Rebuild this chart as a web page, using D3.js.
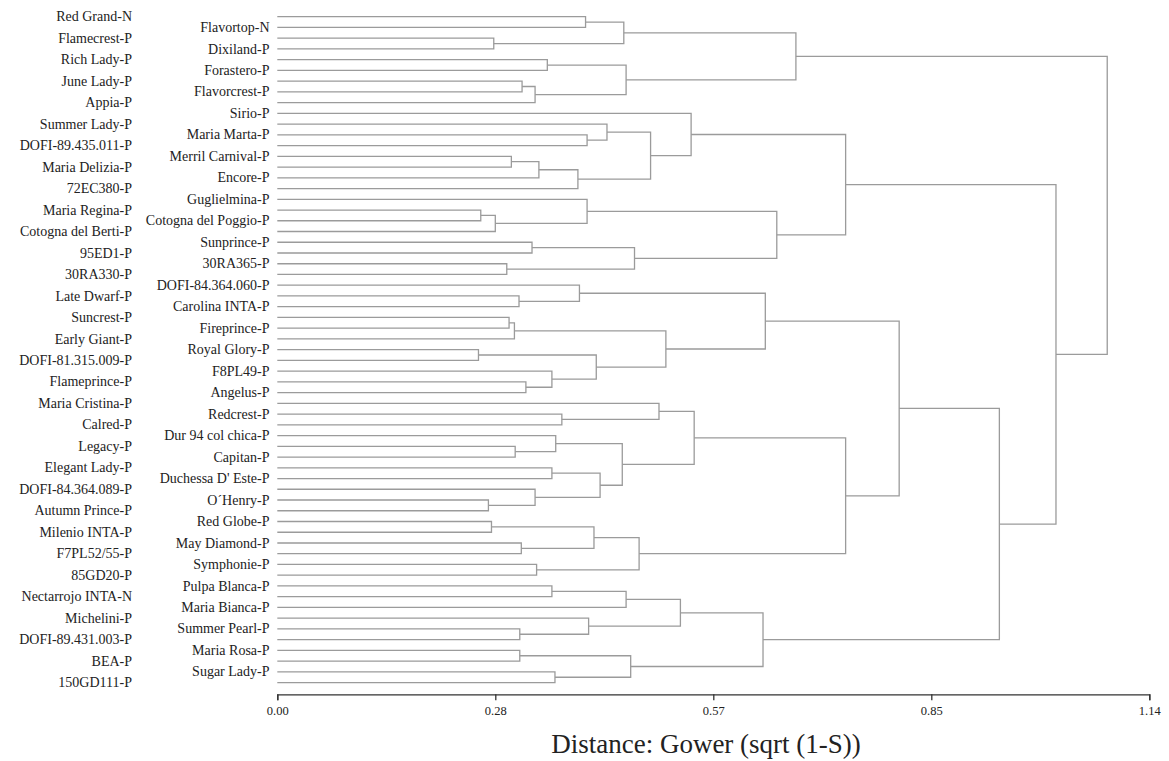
<!DOCTYPE html>
<html>
<head>
<meta charset="utf-8">
<script src="https://cdn.jsdelivr.net/npm/d3@7"></script>
<style>
  html, body { margin: 0; padding: 0; background: #fff; }
  .link { fill: none; stroke: #9b9b9b; stroke-width: 1.3; }
  .axis path, .axis line { stroke: #333; stroke-width: 1.3; }
</style>
</head>
<body>
<div id="chart"></div>
<script>
var SERIF = "'Liberation Serif', 'Times New Roman', Times, 'DejaVu Serif', serif";

// leaf labels, top to bottom (alternating left / right column)
var LEAVES = [
  'Red Grand-N', 'Flavortop-N', 'Flamecrest-P', 'Dixiland-P', 'Rich Lady-P',
  'Forastero-P', 'June Lady-P', 'Flavorcrest-P', 'Appia-P', 'Sirio-P',
  'Summer Lady-P', 'Maria Marta-P', 'DOFI-89.435.011-P', 'Merril Carnival-P', 'Maria Delizia-P',
  'Encore-P', '72EC380-P', 'Guglielmina-P', 'Maria Regina-P', 'Cotogna del Poggio-P',
  'Cotogna del Berti-P', 'Sunprince-P', '95ED1-P', '30RA365-P', '30RA330-P',
  'DOFI-84.364.060-P', 'Late Dwarf-P', 'Carolina INTA-P', 'Suncrest-P', 'Fireprince-P',
  'Early Giant-P', 'Royal Glory-P', 'DOFI-81.315.009-P', 'F8PL49-P', 'Flameprince-P',
  'Angelus-P', 'Maria Cristina-P', 'Redcrest-P', 'Calred-P', 'Dur 94 col chica-P',
  'Legacy-P', 'Capitan-P', 'Elegant Lady-P', "Duchessa D' Este-P", 'DOFI-84.364.089-P',
  'O\u00b4Henry-P', 'Autumn Prince-P', 'Red Globe-P', 'Milenio INTA-P', 'May Diamond-P',
  'F7PL52/55-P', 'Symphonie-P', '85GD20-P', 'Pulpa Blanca-P', 'Nectarrojo INTA-N',
  'Maria Bianca-P', 'Michelini-P', 'Summer Pearl-P', 'DOFI-89.431.003-P', 'Maria Rosa-P',
  'BEA-P', 'Sugar Lady-P', '150GD111-P'
];

// merges: [child a, child b, distance]
// children < 63 are leaves, 63 + k refers to merge row k
var MERGES = [
  [0, 1, 0.403],    // 63
  [2, 3, 0.283],    // 64
  [63, 64, 0.453],  // 65
  [4, 5, 0.353],    // 66
  [6, 7, 0.320],    // 67
  [67, 8, 0.337],   // 68
  [66, 68, 0.456],  // 69
  [65, 69, 0.678],  // 70
  [11, 12, 0.405],  // 71
  [10, 71, 0.431],  // 72
  [13, 14, 0.306],  // 73
  [73, 15, 0.342],  // 74
  [74, 16, 0.393],  // 75
  [72, 75, 0.488],  // 76
  [9, 76, 0.541],   // 77
  [18, 19, 0.266],  // 78
  [78, 20, 0.285],  // 79
  [17, 79, 0.405],  // 80
  [21, 22, 0.333],  // 81
  [23, 24, 0.300],  // 82
  [81, 82, 0.467],  // 83
  [80, 83, 0.653],  // 84
  [77, 84, 0.743],  // 85
  [26, 27, 0.316],  // 86
  [25, 86, 0.395],  // 87
  [28, 29, 0.303],  // 88
  [88, 30, 0.310],  // 89
  [31, 32, 0.263],  // 90
  [34, 35, 0.325],  // 91
  [33, 91, 0.359],  // 92
  [90, 92, 0.417],  // 93
  [89, 93, 0.508],  // 94
  [87, 94, 0.638],  // 95
  [37, 38, 0.372],  // 96
  [36, 96, 0.499],  // 97
  [40, 41, 0.311],  // 98
  [39, 98, 0.364],  // 99
  [42, 43, 0.359],  // 100
  [45, 46, 0.276],  // 101
  [44, 101, 0.337], // 102
  [100, 102, 0.422],// 103
  [99, 103, 0.451], // 104
  [97, 104, 0.545], // 105
  [47, 48, 0.280],  // 106
  [49, 50, 0.319],  // 107
  [106, 107, 0.414],// 108
  [51, 52, 0.339],  // 109
  [108, 109, 0.473],// 110
  [105, 110, 0.743],// 111
  [95, 111, 0.813], // 112
  [53, 54, 0.359],  // 113
  [113, 55, 0.456], // 114
  [57, 58, 0.317],  // 115
  [56, 115, 0.407], // 116
  [114, 116, 0.527],// 117
  [59, 60, 0.317],  // 118
  [61, 62, 0.363],  // 119
  [118, 119, 0.462],// 120
  [117, 120, 0.635],// 121
  [112, 121, 0.944],// 122
  [85, 122, 1.018], // 123
  [70, 123, 1.085]  // 124
];

var TICKS = [0, 0.285, 0.57, 0.855, 1.14];
var TICK_LABELS = ['0.00', '0.28', '0.57', '0.85', '1.14'];
var TITLE = 'Distance: Gower (sqrt (1-S))';

var width = 1169, height = 761;

var x = d3.scaleLinear().domain([0, 1.14]).range([277.3, 1149.3]);
var y = d3.scalePoint().domain(d3.range(LEAVES.length)).range([16.7, 682.6]);

var svg = d3.select('#chart')
  .append('svg')
    .attr('width', width)
    .attr('height', height)
    .style('display', 'block');

// node positions
var nodes = LEAVES.map(function(d, i) { return {y: y(i), h: 0}; });
MERGES.forEach(function(m) {
  var a = nodes[m[0]], b = nodes[m[1]];
  nodes.push({y: (a.y + b.y) / 2, h: m[2], a: a, b: b});
});

// dendrogram links
svg.append('g')
  .selectAll('path')
  .data(nodes.filter(function(n) { return n.a; }))
  .enter().append('path')
    .attr('class', 'link')
    .attr('d', function(n) {
      return 'M' + x(n.a.h) + ',' + n.a.y +
        'H' + x(n.h) + 'V' + n.b.y + 'H' + x(n.b.h);
    });

// labels in two staggered columns
svg.append('g')
  .selectAll('text')
  .data(LEAVES)
  .enter().append('text')
    .attr('x', function(d, i) { return i % 2 === 0 ? 132 : 269.5; })
    .attr('y', function(d, i) { return y(i) + 4.6; })
    .attr('font-family', SERIF)
    .attr('font-size', 14)
    .attr('fill', '#222')
    .attr('text-anchor', 'end')
    .text(function(d) { return d; });

// x axis
var axis = svg.append('g')
  .attr('transform', 'translate(0,694.3)')
  .call(d3.axisBottom(x)
    .tickValues(TICKS)
    .tickSize(6)
    .tickFormat(function(d, i) { return TICK_LABELS[i]; }));
axis.attr('class', 'axis')
  .attr('font-family', SERIF)
  .attr('font-size', 12.5);
axis.selectAll('text').attr('y', 12).attr('fill', '#222');

svg.append('text')
  .attr('x', 706)
  .attr('y', 753)
  .attr('text-anchor', 'middle')
  .attr('font-family', SERIF)
  .attr('font-size', 27)
  .attr('fill', '#222')
  .text(TITLE);
</script>
</body>
</html>
